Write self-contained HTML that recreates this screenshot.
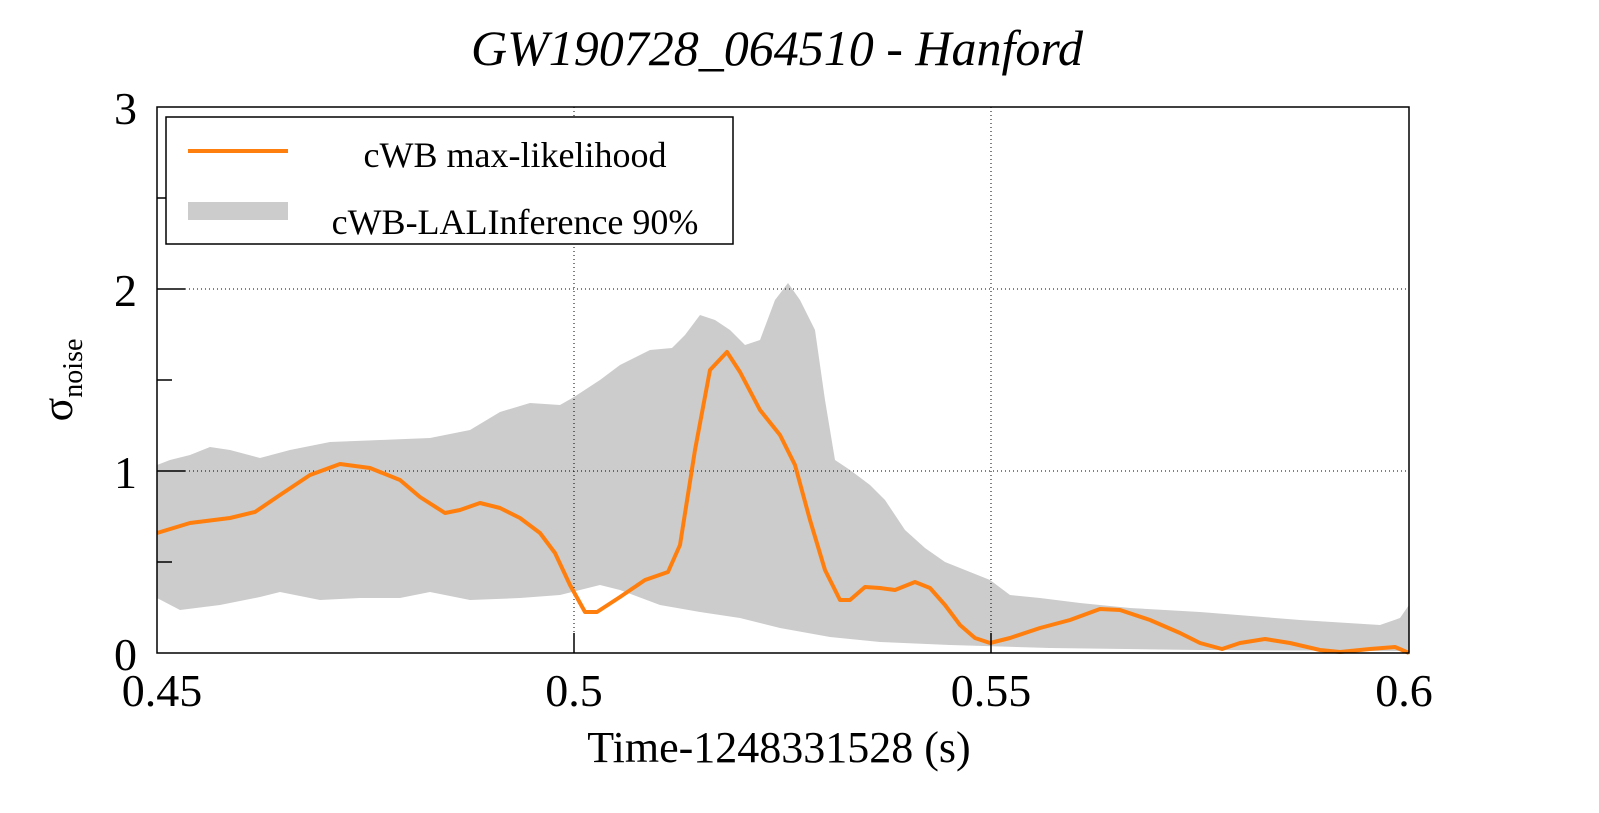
<!DOCTYPE html>
<html><head><style>html,body{margin:0;padding:0;background:#fff;overflow:hidden;width:1599px;height:813px}svg{display:block}</style></head><body>
<svg width="1599" height="813" viewBox="0 0 1599 813" xmlns="http://www.w3.org/2000/svg" font-family="Liberation Serif, serif">
<rect width="1599" height="813" fill="#fff"/>
<text x="777" y="65" font-size="50" font-style="italic" text-anchor="middle">GW190728_064510 - Hanford</text>
<polygon fill="#cccccc" points="157,465 170,460 190,455 210,447 230,450 260,458 290,450 330,442 380,440 430,438 470,430 500,412 530,403 560,405 574,397 600,380 620,365 650,350 672,348 685,335 700,315 715,320 730,330 745,345 760,340 775,300 788,283 800,300 815,330 825,400 835,460 850,470 870,485 885,500 905,530 925,548 945,562 965,570 990,580 1010,595 1040,598 1080,603 1130,608 1200,612 1300,620 1380,625 1400,618 1409,605 1409,651 1200,650 1050,648 950,645 880,642 830,637 780,628 740,618 700,612 660,605 620,590 600,585 580,590 560,595 520,598 470,600 430,592 400,598 360,598 320,600 280,592 260,597 220,605 180,610 157,598"/>
<g stroke="#000" stroke-width="1" stroke-dasharray="1,3">
<line x1="574" y1="107" x2="574" y2="653"/><line x1="991" y1="107" x2="991" y2="653"/>
<line x1="157" y1="289" x2="1409" y2="289"/><line x1="157" y1="471" x2="1409" y2="471"/>
</g>
<polyline fill="none" stroke="#ff7f0e" stroke-width="4" stroke-linejoin="round" points="157,533 190,523 230,518 255,512 280,495 310,475 340,464 370,468 400,480 420,497 445,513 460,510 480,503 500,508 520,518 540,533 555,553 570,585 585,612 597,612 620,597 645,580 668,572 680,545 695,450 710,370 727,352 740,372 760,410 780,435 795,465 810,520 825,570 840,600 850,600 865,587 880,588 895,590 915,582 930,588 945,605 960,625 975,638 990,643 1010,638 1040,628 1070,620 1100,609 1120,610 1150,620 1180,633 1200,643 1222,649 1240,643 1265,639 1290,643 1320,650 1340,652 1370,649 1395,647 1409,653"/>
<rect x="157" y="107" width="1252" height="546" fill="none" stroke="#000" stroke-width="1.5"/>
<g stroke="#000" stroke-width="1.5">
<line x1="157" y1="289" x2="185" y2="289"/><line x1="157" y1="471" x2="185" y2="471"/>
<line x1="157" y1="198" x2="172" y2="198"/><line x1="157" y1="380" x2="172" y2="380"/><line x1="157" y1="562" x2="172" y2="562"/>
<line x1="574" y1="653" x2="574" y2="633"/><line x1="991" y1="653" x2="991" y2="633"/>
</g>
<rect x="166" y="117" width="567" height="127" fill="#fff" stroke="#000" stroke-width="1.5"/>
<line x1="188" y1="151" x2="288" y2="151" stroke="#ff7f0e" stroke-width="4"/>
<rect x="188" y="202" width="100" height="18" fill="#cccccc"/>
<text x="515" y="167" font-size="36" text-anchor="middle">cWB max-likelihood</text>
<text x="515" y="234" font-size="36" text-anchor="middle">cWB-LALInference 90%</text>
<g font-size="46" text-anchor="end">
<text x="137" y="124">3</text><text x="137" y="306">2</text><text x="137" y="488">1</text><text x="137" y="670">0</text>
</g>
<g font-size="46" text-anchor="middle">
<text x="162" y="706">0.45</text><text x="574" y="706">0.5</text><text x="991" y="706">0.55</text><text x="1404" y="706">0.6</text>
</g>
<text x="779" y="762" font-size="44" text-anchor="middle">Time-1248331528 (s)</text>
<g transform="translate(72,380) rotate(-90)"><text x="0" y="0" font-size="44" text-anchor="middle">σ<tspan font-size="28" dy="10">noise</tspan></text></g>
</svg>
</body></html>
